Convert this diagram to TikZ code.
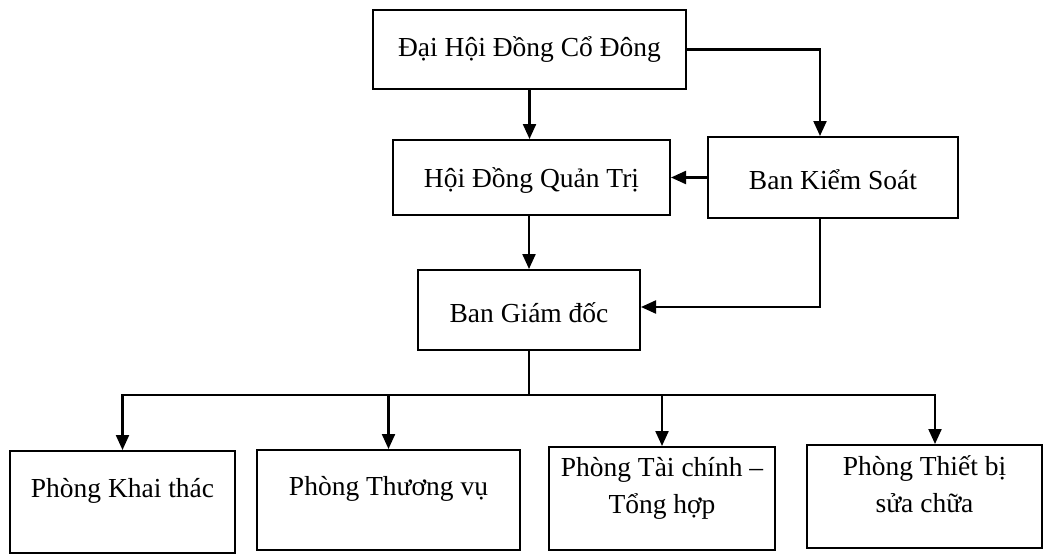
\documentclass[tikz,border=0pt]{standalone}
\usepackage{fontspec}
\setmainfont{Liberation Serif}
\usetikzlibrary{arrows.meta,calc}
\begin{document}
\begin{tikzpicture}[x=1pt,y=-1pt,
  box/.style={draw, line width=2pt, inner sep=0pt},
  txt/.style={font=\fontsize{27.5}{37}\selectfont, align=center, inner sep=0pt},
  arr/.style={line width=2.2pt, -{Triangle[length=15pt,width=13pt]}},
  ln/.style={line width=2.2pt}]
\useasboundingbox (0,0) rectangle (1048,557);
\fill[white] (0,0) rectangle (1048,557);
% boxes
\node[box, minimum width=313pt, minimum height=79pt] (dh) at (529.5,49.5) {};
\node[txt] (tdh) at (dh.center) {Đại Hội Đồng Cổ Đông};
\node[box, minimum width=277pt, minimum height=75pt] (hd) at (531.5,177.5) {};
\node[txt] (thd) at ($(hd.center)+(0,3)$) {Hội Đồng Quản Trị};
\node[box, minimum width=250pt, minimum height=81pt] (bks) at (833,177.5) {};
\node[txt] (tbks) at ($(bks.center)+(0,2)$) {Ban Kiểm Soát};
\node[box, minimum width=222pt, minimum height=80pt] (bgd) at (529,310) {};
\node[txt] (tbgd) at ($(bgd.center)+(0,3)$) {Ban Giám đốc};
\node[box, minimum width=225pt, minimum height=102pt] (p1) at (122.5,502) {};
\node[txt] (tp1) at ($(p1.center)+(0,-11)$) {Phòng Khai thác};
\node[box, minimum width=263pt, minimum height=100pt] (p2) at (388.5,500) {};
\node[txt] (tp2) at ($(p2.center)+(0,-11)$) {Phòng Thương vụ};
\node[box, minimum width=226pt, minimum height=103pt] (p3) at (662,498.5) {};
\node[txt] (tp3) at ($(p3.center)+(0,-10)$) {Phòng Tài chính –\\Tổng hợp};
\node[box, minimum width=235pt, minimum height=103pt] (p4) at (924.5,496.5) {};
\node[txt] (tp4) at ($(p4.center)+(0,-12)$) {Phòng Thiết bị\\sửa chữa};
% connectors
\draw[arr] (dh.south) -- (dh.south |- hd.north);
\draw[arr] (dh.east) -| ([xshift=-13pt]bks.north);
\draw[arr] (bks.west) -- (bks.west -| hd.east);
\draw[arr] (bgd.north |- hd.south) -- (bgd.north);
\draw[arr] ([xshift=-13pt]bks.south) |- ([yshift=3pt]bgd.east);
\coordinate (bus) at (529,395);
\draw[ln] (bgd.south) -- (bus);
\draw[arr] (bus) -| (p1.north);
\draw[arr] (bus) -| (p2.north);
\draw[arr] (bus) -| (p3.north);
\draw[arr] (bus) -| ([xshift=10.5pt]p4.north);
\end{tikzpicture}
\end{document}
